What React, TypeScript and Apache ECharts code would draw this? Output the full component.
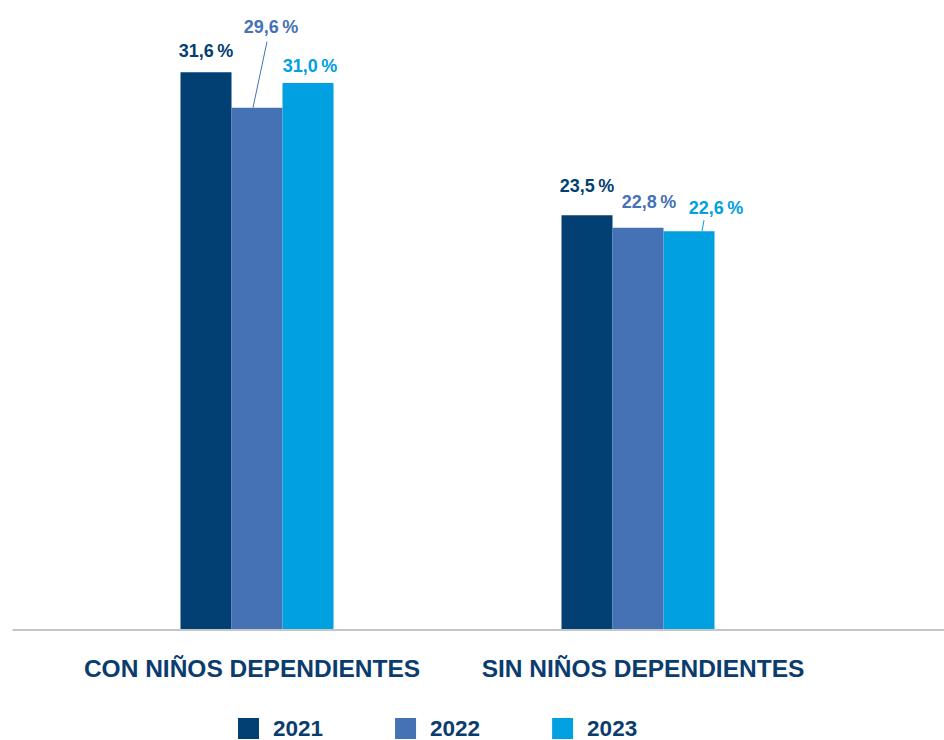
import React, { useEffect, useRef } from "react";
import * as echarts from "echarts";

const categories = ["CON NIÑOS DEPENDIENTES", "SIN NIÑOS DEPENDIENTES"];
const seriesNames = ["2021", "2022", "2023"];
const values2021 = [31.6, 23.5];
const values2022 = [29.6, 22.8];
const values2023 = [31.0, 22.6];
const colors = ["#023f73", "#4472b5", "#00a0e1"];
const labelOffsets = [
  [[0, -12], [0, -20]],
  [[14, -72], [11, -17]],
  [[2, -8], [27, -14]],
];

const FONT = "'Liberation Sans', Arial, sans-serif";
const NAVY = "#0b3c6e";
const BAR_W = 51;

const fmt = (v: number) => v.toFixed(1).replace(".", ",") + "\u2009%";

export default function App() {
  const ref = useRef<HTMLDivElement>(null);
  useEffect(() => {
    if (!ref.current) return;
    const chart = echarts.init(ref.current, null, { renderer: "svg" });
    const all = [values2021, values2022, values2023];
    const series = all.map((vals, s) => ({
      name: seriesNames[s],
      type: "bar",
      barWidth: BAR_W,
      barGap: "0%",
      itemStyle: { color: colors[s] },
      data: vals.map((v, i) => ({
        value: v,
        label: { offset: labelOffsets[s][i] },
      })),
      label: {
        show: true,
        position: "top",
        distance: 0,
        formatter: (p: any) => fmt(p.value),
        color: colors[s],
        fontFamily: FONT,
        fontWeight: "bold",
        fontSize: 18,
        lineHeight: 18,
      },
    }));
    const catStyle = {
      color: NAVY,
      fontFamily: FONT,
      fontWeight: "bold",
      fontSize: 24.5,
      lineHeight: 24,
    };
    chart.setOption({
      animation: false,
      grid: { left: 66.5, right: 115.5, top: 30, bottom: 110 },
      legend: {
        left: 238,
        top: 717,
        padding: 0,
        itemWidth: 21,
        itemHeight: 21,
        itemGap: 72,
        icon: "rect",
        textStyle: {
          color: NAVY,
          fontFamily: FONT,
          fontWeight: "bold",
          fontSize: 22.5,
          lineHeight: 21,
          padding: [0, 0, 0, 9],
        },
        data: seriesNames,
      },
      xAxis: {
        type: "category",
        data: categories,
        axisLine: { show: false },
        axisTick: { show: false },
        axisLabel: {
          interval: 0,
          margin: 26,
          ...catStyle,
          formatter: (v: string, i: number) => (i === 0 ? `{a|${v}}` : `{b|${v}}`),
          rich: {
            a: { ...catStyle, padding: [0, 10, 0, 0] },
            b: { ...catStyle, padding: [0, 0, 0, 10] },
          },
        },
      },
      yAxis: {
        type: "value",
        min: 0,
        max: 34,
        show: false,
        splitLine: { show: false },
      },
      series,
    });

    const px = (cat: number, val: number) =>
      chart.convertToPixel({ xAxisIndex: 0, yAxisIndex: 0 }, [cat, val]) as number[];
    const barX = (s: number, cat: number) => px(cat, 0)[0] + (s - 1) * BAR_W;
    const y0 = px(0, 0)[1];
    const a = px(0, values2022[0]);
    const b = px(1, values2023[1]);
    const bx1 = barX(1, 0);
    const bx2 = barX(2, 1);
    chart.setOption({
      graphic: [
        {
          type: "line",
          shape: { x1: 12.5, y1: y0, x2: 944, y2: y0 },
          style: { stroke: "#c6c6c6", lineWidth: 2 },
          z: 10,
        },
        {
          type: "line",
          shape: { x1: bx1 - 4, y1: a[1], x2: bx1 + 10, y2: a[1] - 66 },
          style: { stroke: colors[1], lineWidth: 1 },
        },
        {
          type: "line",
          shape: { x1: bx2 + 13, y1: b[1], x2: bx2 + 15, y2: b[1] - 11 },
          style: { stroke: colors[2], lineWidth: 1 },
        },
      ],
    });
    return () => chart.dispose();
  }, []);
  return (
    <div
      ref={ref}
      style={{ position: "fixed", left: 0, top: 0, width: 944, height: 740, background: "#fff" }}
    />
  );
}
